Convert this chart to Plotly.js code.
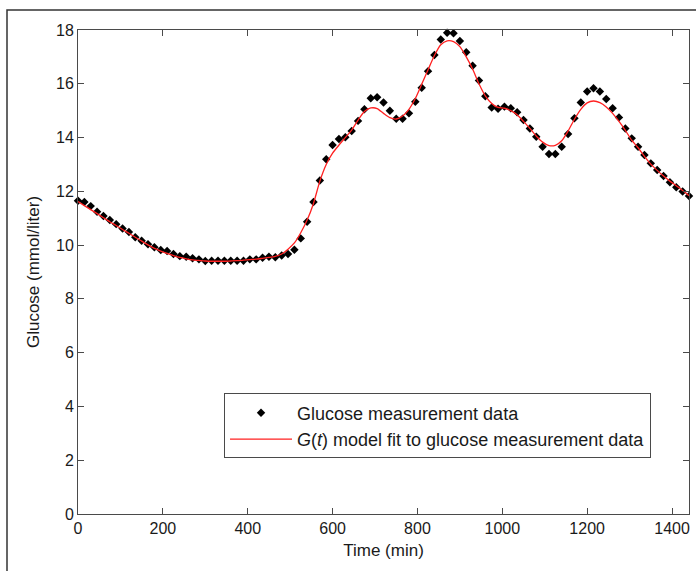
<!DOCTYPE html>
<html>
<head>
<meta charset="utf-8">
<script src="https://cdn.plot.ly/plotly-3.0.1.min.js"></script>
<style>
  html, body { margin: 0; padding: 0; background: #fff; }
  #chart { width: 696px; height: 571px; }
</style>
</head>
<body>
<div id="chart"></div>
<script>
// Time points (min), every 15 min
const timeMin = [
  0, 15, 30, 45, 60, 75, 90, 105, 120, 135, 150, 165, 180, 195, 210, 225, 240, 255, 270, 285,
  300, 315, 330, 345, 360, 375, 390, 405, 420, 435, 450, 465, 480, 495, 510, 525, 540, 555, 570, 585,
  600, 615, 630, 645, 660, 675, 690, 705, 720, 735, 750, 765, 780, 795, 810, 825, 840, 855, 870, 885,
  900, 915, 930, 945, 960, 975, 990, 1005, 1020, 1035, 1050, 1065, 1080, 1095, 1110, 1125, 1140, 1155, 1170, 1185,
  1200, 1215, 1230, 1245, 1260, 1275, 1290, 1305, 1320, 1335, 1350, 1365, 1380, 1395, 1410, 1425, 1440
];

// Glucose measurement data (mmol/liter)
const glucoseMeasured = [
  11.65, 11.60, 11.45, 11.24, 11.08, 10.93, 10.78, 10.62, 10.49, 10.29, 10.16, 10.03, 9.92, 9.82, 9.78, 9.67, 9.59, 9.57, 9.51, 9.47,
  9.41, 9.42, 9.42, 9.42, 9.42, 9.42, 9.42, 9.47, 9.47, 9.53, 9.57, 9.55, 9.61, 9.67, 9.83, 10.25, 10.87, 11.60, 12.40, 13.19,
  13.72, 13.95, 14.01, 14.24, 14.62, 15.05, 15.46, 15.50, 15.30, 15.00, 14.70, 14.70, 14.90, 15.33, 15.85, 16.47, 17.07, 17.65, 17.90, 17.88,
  17.59, 17.17, 16.67, 16.12, 15.54, 15.12, 15.07, 15.15, 15.09, 14.94, 14.65, 14.34, 14.03, 13.66, 13.39, 13.39, 13.66, 14.13, 14.72, 15.30,
  15.71, 15.83, 15.71, 15.43, 15.09, 14.75, 14.34, 13.97, 13.66, 13.35, 13.04, 12.79, 12.57, 12.34, 12.15, 11.99, 11.83
];

// G(t) model fit (mmol/liter)
const glucoseModel = [
  11.62, 11.47, 11.32, 11.17, 11.02, 10.87, 10.73, 10.58, 10.44, 10.29, 10.15, 10.01, 9.88, 9.78, 9.69, 9.61, 9.54, 9.49, 9.45, 9.43,
  9.41, 9.40, 9.40, 9.40, 9.41, 9.42, 9.44, 9.46, 9.48, 9.51, 9.54, 9.58, 9.67, 9.85, 10.08, 10.46, 10.93, 11.55, 12.38, 13.00,
  13.42, 13.72, 14.00, 14.28, 14.65, 14.97, 15.10, 15.08, 14.90, 14.74, 14.69, 14.80, 15.05, 15.45, 15.98, 16.52, 17.05, 17.45, 17.60, 17.57,
  17.38, 17.00, 16.55, 16.00, 15.55, 15.27, 15.12, 15.09, 15.00, 14.85, 14.60, 14.34, 14.06, 13.83, 13.70, 13.71, 13.88, 14.24, 14.68, 15.05,
  15.29, 15.36, 15.30, 15.14, 14.90, 14.60, 14.27, 13.90, 13.62, 13.30, 13.01, 12.78, 12.57, 12.38, 12.21, 12.03, 11.84
];

const xTicks = [0, 200, 400, 600, 800, 1000, 1200, 1400];
const yTicks = [0, 2, 4, 6, 8, 10, 12, 14, 16, 18];

const FONT = 'Liberation Sans, Arial, sans-serif';

const traces = [
  {
    x: timeMin, y: glucoseMeasured,
    type: 'scatter', mode: 'markers',
    name: 'Glucose measurement data',
    legendgroup: 'a',
    marker: { symbol: 'diamond', size: 6.5, color: '#000000' },
    cliponaxis: false
  },
  {
    x: timeMin, y: glucoseModel,
    type: 'scatter', mode: 'lines',
    name: '<i>G</i>(<i>t</i>) model fit to glucose measurement data',
    legendgroup: 'b',
    line: { color: '#ff2020', width: 1.3, shape: 'spline', smoothing: 0.6 }
  }
];

const axisCommon = {
  showgrid: false, zeroline: false,
  showline: true, linecolor: '#4a4a4a', linewidth: 1,
  mirror: 'ticks', ticks: 'inside', ticklen: 6, tickcolor: '#4a4a4a', tickwidth: 1,
  tickfont: { family: FONT, size: 16, color: '#1a1a1a' }
};

const layout = {
  width: 696, height: 571,
  margin: { l: 78, r: 7, t: 30, b: 57 },
  paper_bgcolor: '#ffffff', plot_bgcolor: '#ffffff',
  font: { family: FONT, size: 16, color: '#1a1a1a' },
  showlegend: true,
  legend: {
    x: 0.239, y: 0.249, xanchor: 'left', yanchor: 'top',
    bordercolor: '#4a4a4a', borderwidth: 1, bgcolor: '#ffffff',
    font: { family: FONT, size: 18, color: '#1a1a1a' },
    traceorder: 'grouped', tracegroupgap: 0,
    itemwidth: 62
  },
  xaxis: Object.assign({}, axisCommon, {
    range: [0, 1440], tickvals: xTicks, ticktext: xTicks.map(String),
    title: { text: 'Time (min)', font: { family: FONT, size: 17, color: '#1a1a1a' }, standoff: 7 }
  }),
  yaxis: Object.assign({}, axisCommon, {
    range: [0, 18], tickvals: yTicks, ticktext: yTicks.map(String),
    title: { text: 'Glucose (mmol/liter)', font: { family: FONT, size: 17, color: '#1a1a1a' }, standoff: 12 }
  }),
  shapes: [
    { type: 'rect', xref: 'paper', yref: 'paper', x0: -0.1162, x1: 1.05, y0: -0.2, y1: 1.0413,
      line: { color: '#333333', width: 1.5 }, fillcolor: 'rgba(0,0,0,0)', layer: 'below' }
  ]
};

Plotly.newPlot('chart', traces, layout, { displayModeBar: false, staticPlot: true });
</script>
</body>
</html>
